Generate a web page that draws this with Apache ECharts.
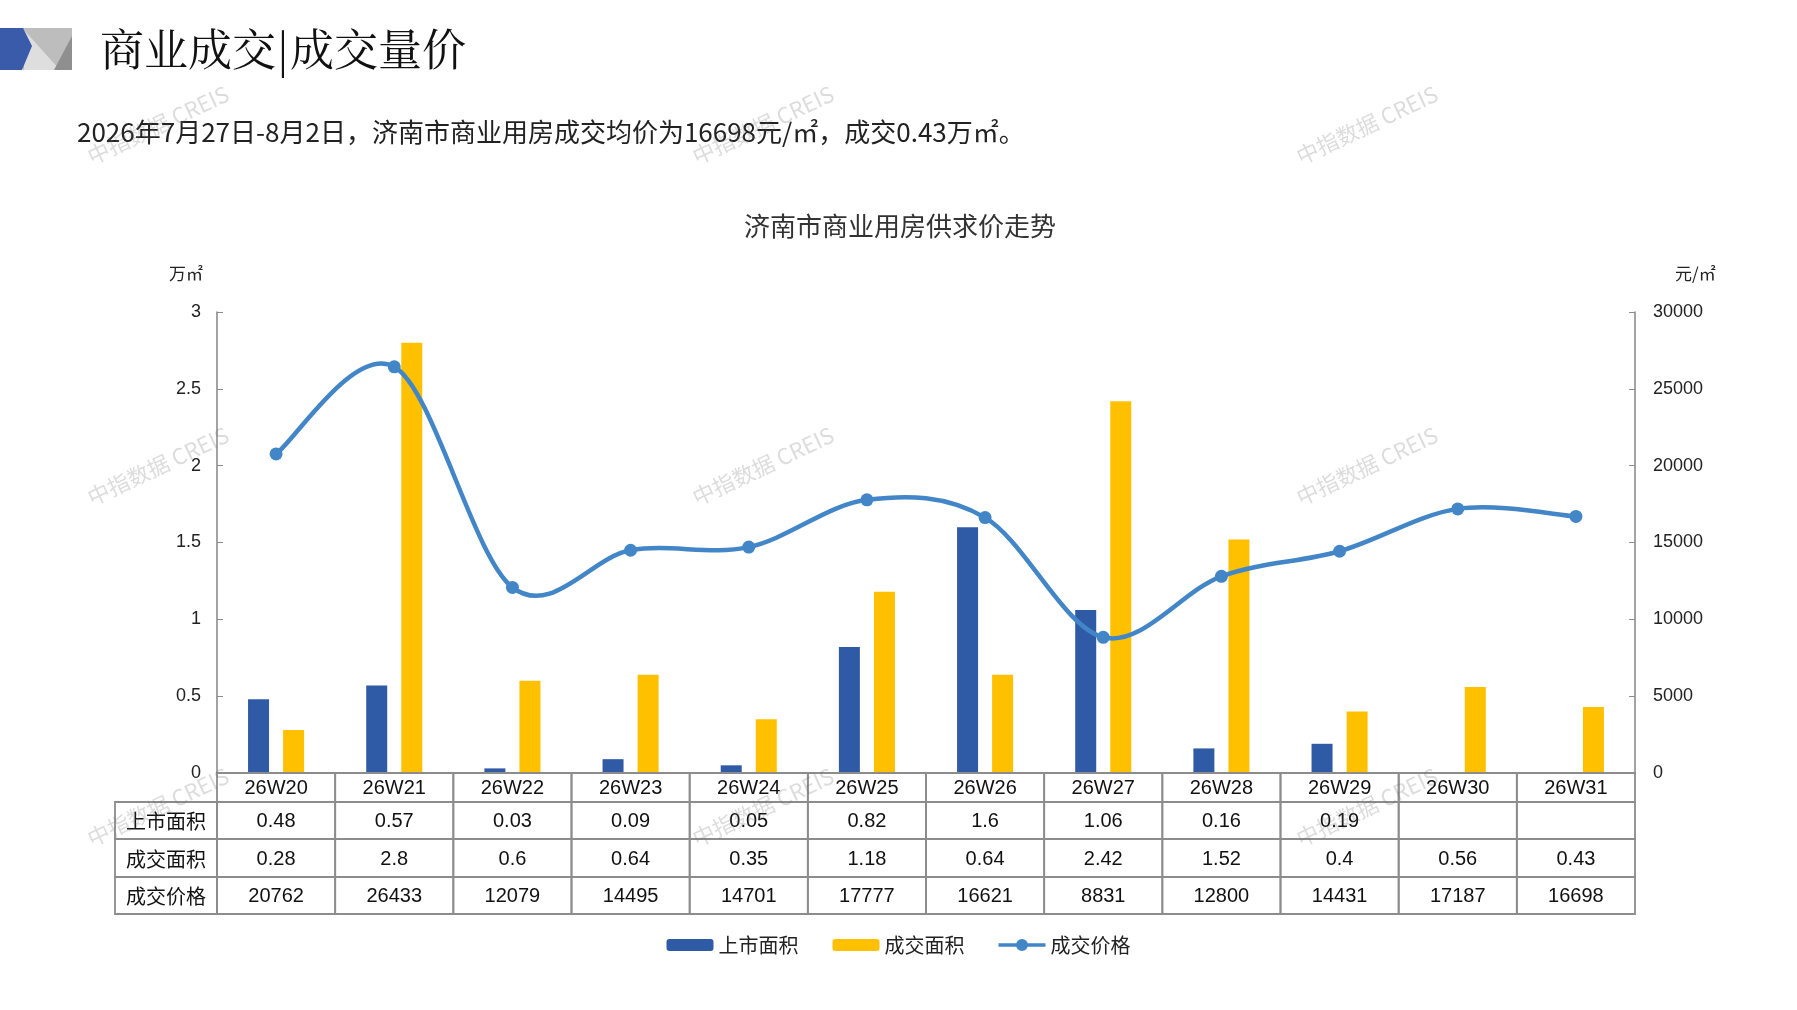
<!DOCTYPE html>
<html><head><meta charset="utf-8">
<script src="https://cdn.jsdelivr.net/npm/echarts@6/dist/echarts.min.js"></script>
<style>html,body{margin:0;padding:0;background:#fff}#c{width:1797px;height:1010px}</style>
</head><body><div id="c"></div>
<script>
const categories = ['26W20','26W21','26W22','26W23','26W24','26W25','26W26','26W27','26W28','26W29','26W30','26W31'];
const supplyArea = [0.48,0.57,0.03,0.09,0.05,0.82,1.6,1.06,0.16,0.19,null,null];
const dealArea = [0.28,2.8,0.6,0.64,0.35,1.18,0.64,2.42,1.52,0.4,0.56,0.43];
const dealPrice = [20762,26433,12079,14495,14701,17777,16621,8831,12800,14431,17187,16698];
const seriesNames = ['上市面积','成交面积','成交价格'];
const leftTicks = {min:0, max:3, interval:0.5};
const rightTicks = {min:0, max:30000, interval:5000};

const CJK = "'Noto Sans CJK SC','Noto Sans',sans-serif";
const NUM = "'Liberation Sans Narrow','Liberation Sans',Arial,sans-serif";
const GRID = '#8c8c8c';
const LINE = '#4386c8';

// table cells built from arrays
const tableRows = [categories, supplyArea, dealArea, dealPrice];
const cells = [];
tableRows.forEach((arr, r) => {
  if (r > 0) cells.push({value:[0, 0, r, -1], text: seriesNames[r-1]});
  arr.forEach((v, i) => cells.push({value:[i, 0, r, i], text: v == null ? '' : String(v)}));
});
const rowEdges = [0, 29, 66, 104, 141];
const labelColW = 102;

const chart = echarts.init(document.getElementById('c'));
const wm = [];
[[158,125],[763,125],[1367,125],[158,466],[763,466],[1367,466],[158,807],[763,807],[1367,807]].forEach(p=>{
  wm.push({type:'text', x:p[0], y:p[1], rotation:0.44, z:100,
    style:{text:'中指数据 CREIS', font:"22px 'Noto Sans CJK SC',sans-serif", fill:'rgba(110,110,110,0.24)', align:'center', verticalAlign:'middle'}});
});
const lineIcon = 'path://M0,4.2L47,4.2L47,7.8L0,7.8Z M17.5,6a6,6 0 1,1 12,0a6,6 0 1,1 -12,0Z';

chart.setOption({
  animation:false,
  backgroundColor:'#fff',
  title:[
    {text:'商业成交|成交量价', left:95, top:22, textStyle:{fontFamily:"'Noto Serif CJK SC','Noto Sans CJK SC',serif", fontSize:44, fontWeight:'normal', color:'#111'}},
    {text:'2026年7月27日-8月2日，济南市商业用房成交均价为16698元/㎡，成交0.43万㎡。', left:72, top:114, textStyle:{fontFamily:CJK, fontSize:26, fontWeight:'normal', color:'#222'}},
    {text:'济南市商业用房供求价走势', left:895, top:208, textAlign:'center', textStyle:{fontFamily:CJK, fontSize:26, fontWeight:'normal', color:'#333'}}
  ],
  graphic:[
    {type:'rect', shape:{x:23,y:28,width:49,height:42}, style:{fill:'#bdbdbd'}},
    {type:'polygon', shape:{points:[[24,30],[24,70],[60,70]]}, style:{fill:'#dedede'}},
    {type:'polygon', shape:{points:[[72,36],[72,70],[54,70]]}, style:{fill:'#8f8f8f'}},
    {type:'polygon', shape:{points:[[0,28],[23,28],[32,46],[22,70],[0,70]]}, style:{fill:'#3a5ba9'}}
  ].concat(wm),
  legend:{data:[{name:seriesNames[0]},{name:seriesNames[1]},{name:seriesNames[2], icon:lineIcon}], bottom:50, left:'center', itemWidth:47, itemHeight:12, itemGap:34,
    textStyle:{fontFamily:CJK, fontSize:20, color:'#222'}},
  grid:{left:217, right:162, top:312, bottom:237, containLabel:false},
  xAxis:{type:'category', data:categories, axisLine:{lineStyle:{color:GRID, width:1.6}}, axisTick:{show:false}, axisLabel:{show:false}},
  yAxis:[
    {type:'value', min:leftTicks.min, max:leftTicks.max, interval:leftTicks.interval, name:'万㎡', nameLocation:'end', nameGap:30,
      nameTextStyle:{fontFamily:CJK, fontSize:17, color:'#222', align:'right', padding:[0,14,0,0]},
      axisLine:{show:true, lineStyle:{color:GRID, width:1.6}}, axisTick:{show:true, inside:true, length:6, lineStyle:{color:GRID}},
      axisLabel:{margin:16, fontFamily:"'Liberation Sans',Arial,sans-serif", fontSize:18, color:'#222'}, splitLine:{show:false}},
    {type:'value', min:rightTicks.min, max:rightTicks.max, interval:rightTicks.interval, position:'right', name:'元/㎡', nameLocation:'end', nameGap:30,
      nameTextStyle:{fontFamily:CJK, fontSize:17, color:'#222', align:'left', padding:[0,0,0,40]},
      axisLine:{show:true, lineStyle:{color:GRID, width:1.6}}, axisTick:{show:true, inside:true, length:6, lineStyle:{color:GRID}},
      axisLabel:{margin:18, fontFamily:"'Liberation Sans',Arial,sans-serif", fontSize:18, color:'#222', formatter:v=>String(v)}, splitLine:{show:false}}
  ],
  series:[
    {name:seriesNames[0], type:'bar', data:supplyArea, barWidth:21, barGap:'67%', itemStyle:{color:'#2f5aa6'}},
    {name:seriesNames[1], type:'bar', data:dealArea, barWidth:21, barGap:'67%', itemStyle:{color:'#ffc000'}},
    {name:seriesNames[2], type:'custom', yAxisIndex:1, clip:false, encode:{x:0, y:1}, z:5,
      itemStyle:{color:LINE},
      data:dealPrice.map((v,i)=>[i, v]),
      renderItem:function(params, api){
        const n = dealPrice.length;
        const i = params.dataIndex;
        const P = k => { k = Math.max(0, Math.min(n-1, k)); return api.coord([k, dealPrice[k]]); };
        const children = [];
        if (i < n-1) {
          const p0 = P(i-1), p1 = P(i), p2 = P(i+1), p3 = P(i+2);
          children.push({type:'bezierCurve', shape:{
            x1:p1[0], y1:p1[1], x2:p2[0], y2:p2[1],
            cpx1:p1[0] + (p2[0]-p0[0])/6, cpy1:p1[1] + (p2[1]-p0[1])/6,
            cpx2:p2[0] - (p3[0]-p1[0])/6, cpy2:p2[1] - (p3[1]-p1[1])/6},
            style:{fill:'none', stroke:LINE, lineWidth:4.5, lineCap:'round'}});
        }
        const c = P(i);
        children.push({type:'circle', shape:{cx:c[0], cy:c[1], r:6.5}, style:{fill:LINE}, z2:10});
        return {type:'group', children};
      }},
    {type:'custom', clip:false, silent:true, encode:{x:0, y:1}, data:cells, z:3,
      renderItem:function(params, api){
        const row = api.value(2), col = api.value(3);
        const base = api.coord([0, 0]);
        const bw = api.size([1, 0])[0];
        let x0, w;
        if (col >= 0) { x0 = api.coord([col, 0])[0] - bw/2; w = bw; }
        else { x0 = base[0] - bw/2 - labelColW; w = labelColW; }
        const y0 = base[1] + rowEdges[row];
        const h = rowEdges[row+1] - rowEdges[row];
        const txt = cells[params.dataIndex].text;
        return {type:'group', children:[
          {type:'rect', shape:{x:x0, y:y0, width:w, height:h}, style:{fill:'none', stroke:GRID, lineWidth:1.8}},
          {type:'text', style:{text:txt, x:x0+w/2, y:y0+h/2+1, align:'center', verticalAlign:'middle',
            font: (col < 0 ? "20px " + CJK : "20px " + NUM), fill:'#111'}}
        ]};
      }}
  ]
});
</script></body></html>
